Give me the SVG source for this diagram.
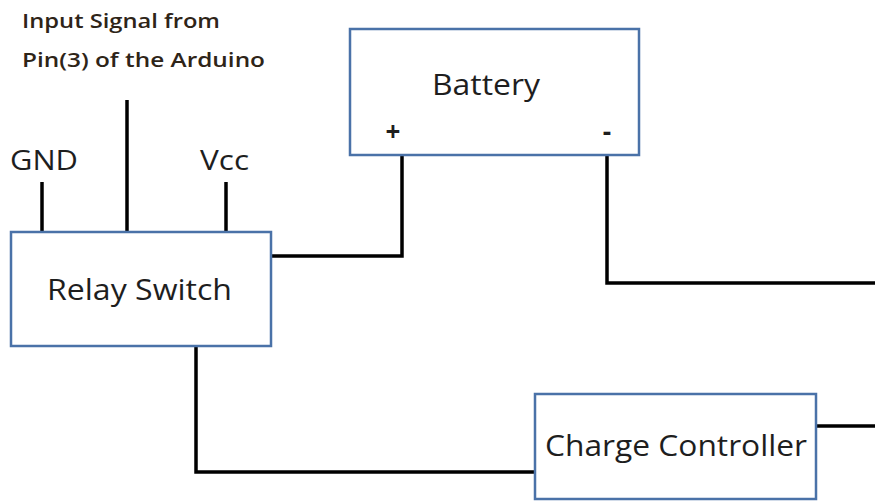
<svg xmlns="http://www.w3.org/2000/svg" width="875" height="503" viewBox="0 0 875 503">
<style>
.box{fill:#fff;stroke:#4a72a8;stroke-width:2.5}
.w{fill:none;stroke:#000;stroke-width:3.5}
text{font-family:"Open Sans","Liberation Sans",sans-serif;fill:#1e1e1e}
.lbl{font-size:30px}
.pin{font-size:28px}
.sm{font-size:20px;font-weight:600;fill:#2e2418}
</style>
<g id="connectors">
<path class="w" d="M42 182V232"/>
<path class="w" d="M127 100V232"/>
<path class="w" d="M226 182V232"/>
<path class="w" d="M271 256H402V155"/>
<path class="w" d="M607 155V283H875"/>
<path class="w" d="M196 346V472H535"/>
<path class="w" d="M816 426H875"/>
</g>
<g id="input-label">
<text class="sm" x="22" y="28" textLength="198" lengthAdjust="spacingAndGlyphs">Input Signal from</text>
<text class="sm" x="22" y="67" textLength="243" lengthAdjust="spacingAndGlyphs">Pin(3) of the Arduino</text>
</g>
<g id="gnd"><text class="pin" x="10" y="170" textLength="68" lengthAdjust="spacingAndGlyphs">GND</text></g>
<g id="vcc"><text class="pin" x="200" y="170" textLength="49" lengthAdjust="spacingAndGlyphs">Vcc</text></g>
<g id="battery">
<rect class="box" x="350" y="29" width="289" height="126"/>
<text class="lbl" x="432" y="95" textLength="108" lengthAdjust="spacingAndGlyphs">Battery</text>
<text x="393" y="141" text-anchor="middle" style="font-size:26px;font-weight:bold">+</text>
<text x="607" y="141" text-anchor="middle" style="font-size:26px;font-weight:bold">-</text>
</g>
<g id="relay">
<rect class="box" x="11" y="232" width="260" height="114"/>
<text class="lbl" x="47" y="300" textLength="185" lengthAdjust="spacingAndGlyphs">Relay Switch</text>
</g>
<g id="charge-controller">
<rect class="box" x="535" y="394" width="281" height="105"/>
<text class="lbl" x="545" y="456" textLength="262" lengthAdjust="spacingAndGlyphs">Charge Controller</text>
</g>
</svg>
